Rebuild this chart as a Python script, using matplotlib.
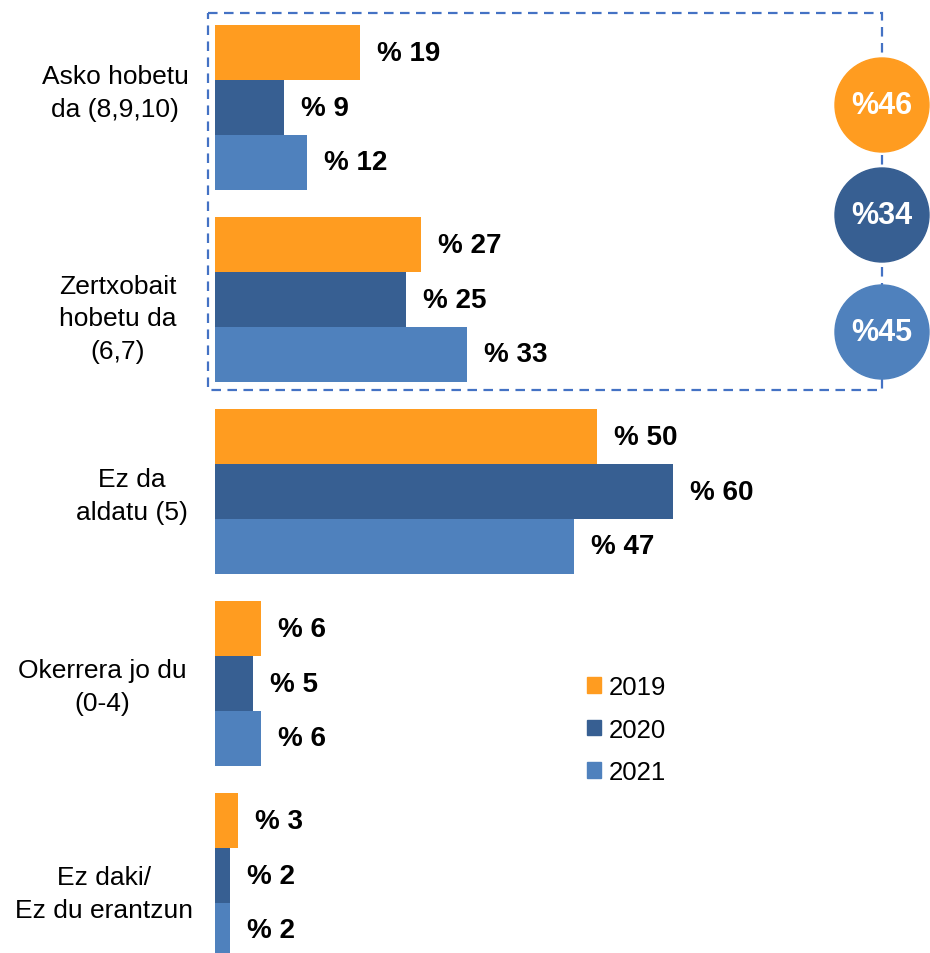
import numpy as np
import matplotlib
matplotlib.use("Agg")
import matplotlib.pyplot as plt
from matplotlib.patches import Rectangle, Circle, Patch

plt.rcParams['font.family'] = ['Liberation Sans', 'DejaVu Sans']

# data
categories = ["Asko hobetu\nda (8,9,10)", "Zertxobait\nhobetu da\n(6,7)",
              "Ez da\naldatu (5)", "Okerrera jo du\n(0-4)",
              "Ez daki/\nEz du erantzun"]
years = ["2019", "2020", "2021"]
v2019 = [19, 27, 50, 6, 3]
v2020 = [9, 25, 60, 5, 2]
v2021 = [12, 33, 47, 6, 2]
totals = [46, 34, 45]   # improved (8-10 + 6-7) per year

# layout of category labels (pixel centre x, vertical shift in px)
label_x = [115, 118, 132, 102, 104]
label_dy = [-15, 19, 4, 3, 18]

colors = ["#FF9C20", "#375F92", "#4F81BD"]
box_col = "#4472C4"

fig = plt.figure(figsize=(9.3, 9.54), dpi=100)
W, H = 930, 954
pt = 72 / 100  # points per pixel

# main bar axes
px_per_unit = 7.63
ax = fig.add_axes([215 / W, 0, (W - 215) / W, 1])
ax.set_xlim(0, (W - 215) / px_per_unit)
gap = 192.0
c0 = 108.5
ax.set_ylim((H - c0) / gap, -c0 / gap)

h = 54.7 / gap
centers = np.arange(len(categories))
for j, vals in enumerate([v2019, v2020, v2021]):
    y = centers + (j - 1) * h
    ax.barh(y, vals, height=h, color=colors[j], label=years[j])
    for yy, v in zip(y, vals):
        ax.annotate(f"% {v}", (v, yy), xytext=(17 * pt, 0), textcoords="offset points",
                    va="center", ha="left", fontsize=20, fontweight="bold")

for c, lab, lx, dy in zip(centers, categories, label_x, label_dy):
    ax.annotate(lab, (0, c), xycoords=("axes fraction", "data"),
                xytext=((lx - 215) * pt, -dy * pt), textcoords="offset points",
                ha="center", va="center", multialignment="center",
                fontsize=19, linespacing=1.46, annotation_clip=False)

ax.set_yticks([])
ax.set_xticks([])
for s in ax.spines.values():
    s.set_visible(False)

# overlay in pixel coords for box, circles
ov = fig.add_axes([0, 0, 1, 1])
ov.set_xlim(0, W)
ov.set_ylim(H, 0)
ov.axis("off")
ov.add_patch(Rectangle((208, 14), 674, 377, fill=False, edgecolor=box_col,
                       lw=1.6, linestyle=(0, (4.3, 2.9)), zorder=1))
circ_y = [106, 216, 333]
for cy, t, col in zip(circ_y, totals, colors):
    ov.add_patch(Circle((882, cy), 47, color=col, zorder=2))
    ov.text(882, cy, f"%{t}", color="white", fontsize=22, fontweight="bold",
            ha="center", va="center", zorder=3)

handles = [Patch(color=c) for c in colors]
fig.legend(handles, years, loc="upper left", bbox_to_anchor=(587 / W, 1 - 676 / H),
           frameon=False, fontsize=18.5, handlelength=0.55, handleheight=0.55,
           handletextpad=0.3, labelspacing=0.72, borderpad=0, borderaxespad=0)

fig.savefig("out.png", dpi=100)
